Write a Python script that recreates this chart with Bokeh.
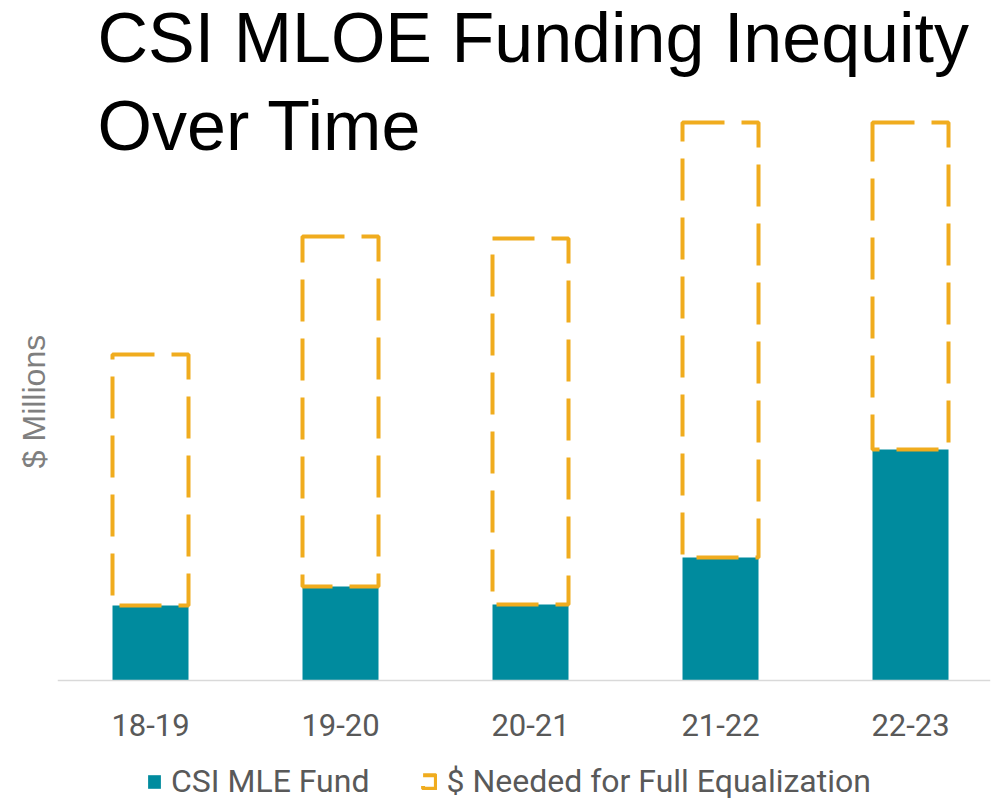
from bokeh.plotting import figure
from bokeh.models import Range1d, FixedTicker, Label, Legend, LegendItem, ColumnDataSource, Span
from bokeh.core.properties import value
from bokeh.embed import file_html
from bokeh.resources import INLINE

years = ["18-19", "19-20", "20-21", "21-22", "22-23"]
mle_fund = [15.0, 18.8, 15.2, 24.6, 46.2]
needed = [50.2, 70.0, 73.2, 87.0, 65.4]

TEAL = "#008B9E"
ORANGE = "#F0AC1E"

xs = list(range(len(years)))
tops = [a + b for a, b in zip(mle_fund, needed)]
src = ColumnDataSource(dict(x=xs, fund=mle_fund, top=tops, year=years, zero=[0] * len(xs)))

p = figure(width=993, height=802, output_backend="svg", toolbar_location=None,
           x_range=Range1d(-0.4895, 4.421), y_range=Range1d(-24.4, 136),
           min_border_left=57, min_border_right=3, min_border_top=0, min_border_bottom=0)
p.outline_line_color = None
p.xgrid.visible = False
p.ygrid.visible = False
p.xaxis.visible = False

p.add_layout(Span(location=0, dimension="width", line_color="#D9D9D9", line_width=1.5))

r1 = p.vbar(x="x", top="fund", bottom=0, width=0.4, source=src, fill_color=TEAL, line_color=None)
r2 = p.vbar(x="x", top="top", bottom="fund", width=0.4, source=src, fill_alpha=0,
            line_color=ORANGE, line_width=4, line_dash="42 17")

p.text(x="x", y="zero", text="year", source=src, y_offset=44,
       text_font=value("Roboto"), text_font_size="31px", text_color="#595959",
       text_align="center", text_baseline="alphabetic")

p.yaxis.ticker = FixedTicker(ticks=[])
p.yaxis.axis_line_color = None
p.yaxis.major_tick_line_color = None
p.yaxis.minor_tick_line_color = None
p.yaxis.axis_label = "$ Millions"
p.yaxis.axis_label_text_font = "Liberation Sans"
p.yaxis.axis_label_text_font_style = "normal"
p.yaxis.axis_label_text_font_size = "32px"
p.yaxis.axis_label_text_color = "#7F7F7F"
p.yaxis.axis_label_standoff = 6

title_lines = ["CSI MLOE Funding Inequity", "Over Time"]
for txt, yy in zip(title_lines, [765, 677]):
    p.add_layout(Label(x=40, y=yy, x_units="screen", y_units="screen", text=txt,
                       text_font="Liberation Sans", text_font_size="70px",
                       text_color="black", text_baseline="alphabetic"))

legend = Legend(items=[LegendItem(label="CSI MLE Fund", renderers=[r1]),
                       LegendItem(label="$ Needed for Full Equalization", renderers=[r2])],
                orientation="horizontal", location=(89, 2),
                label_text_font="Roboto", label_text_font_size="32px",
                label_text_color="#595959", glyph_width=16, glyph_height=17,
                label_standoff=9, spacing=52, border_line_color=None,
                background_fill_alpha=0, margin=0, padding=2)
p.add_layout(legend, "center")

open("out.html", "w").write(file_html(p, INLINE))
